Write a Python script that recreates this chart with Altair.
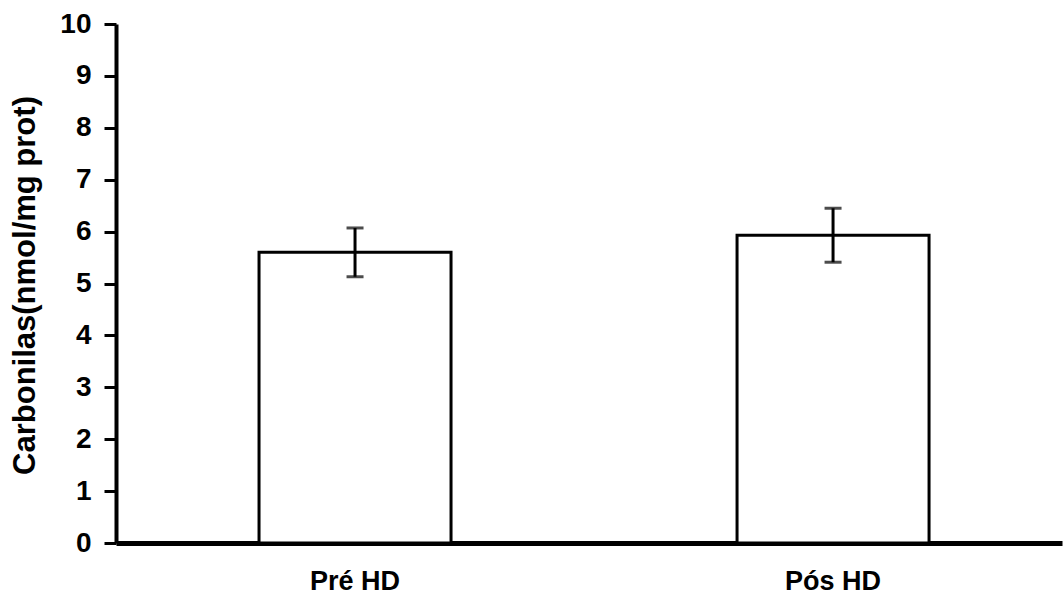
import altair as alt
import pandas as pd

# Protein carbonyls before and after haemodialysis (mean ± error)
groups = ["Pré HD", "Pós HD"]
means = [5.60, 5.93]
errors = [0.47, 0.52]
y_ticks = list(range(0, 11))

df = pd.DataFrame({"grupo": groups, "media": means, "erro": errors})
df["low"] = df["media"] - df["erro"]
df["high"] = df["media"] + df["erro"]

FONT = "Liberation Sans"

x_scale = alt.Scale(paddingInner=0.5, paddingOuter=0.2395, align=0.522, round=False)

x_enc = alt.X(
    "grupo:N",
    sort=groups,
    scale=x_scale,
    axis=alt.Axis(
        title=None,
        labelAngle=0,
        labelFont=FONT,
        labelFontSize=27,
        labelFontWeight="bold",
        labelColor="black",
        labelPadding=25,
        ticks=False,
        domainColor="black",
        domainWidth=5,
    ),
)

y_scale = alt.Scale(domain=[0, 10], nice=False)

bars = alt.Chart(df).mark_bar(
    size=192, fill="white", stroke="black", strokeWidth=3
).encode(
    x=x_enc,
    y=alt.Y(
        "media:Q",
        scale=y_scale,
        axis=alt.Axis(
            title="Carbonilas(nmol/mg prot)",
            values=y_ticks,
            grid=False,
            labelFont=FONT,
            labelFontSize=28,
            labelFontWeight="bold",
            labelColor="black",
            labelPadding=13,
            tickSize=12,
            tickWidth=3,
            tickColor="black",
            domainColor="black",
            domainWidth=4,
            titleFont=FONT,
            titleFontSize=31,
            titleFontWeight="bold",
            titleColor="black",
            titleAngle=270,
            titleAlign="center",
            titleBaseline="middle",
            titleX=-91,
            titleY=261,
        ),
    ),
)

stems = alt.Chart(df).mark_rule(color="black", strokeWidth=3).encode(
    x=alt.X("grupo:N", sort=groups, scale=x_scale),
    y=alt.Y("low:Q", scale=y_scale),
    y2="high:Q",
)

caps_low = alt.Chart(df).mark_tick(color="black", size=17, thickness=3).encode(
    x=alt.X("grupo:N", sort=groups, scale=x_scale),
    y=alt.Y("low:Q", scale=y_scale),
)

caps_high = alt.Chart(df).mark_tick(color="black", size=17, thickness=3).encode(
    x=alt.X("grupo:N", sort=groups, scale=x_scale),
    y=alt.Y("high:Q", scale=y_scale),
)

chart = (
    alt.layer(bars, stems, caps_low, caps_high)
    .properties(
        width=946,
        height=519,
        autosize=alt.AutoSizeParams(type="none"),
        padding={"left": 116, "top": 24, "right": 1, "bottom": 60},
        background="white",
    )
    .configure_view(stroke=None)
)

chart.save("out.html", embed_options={"renderer": "svg", "actions": False})
